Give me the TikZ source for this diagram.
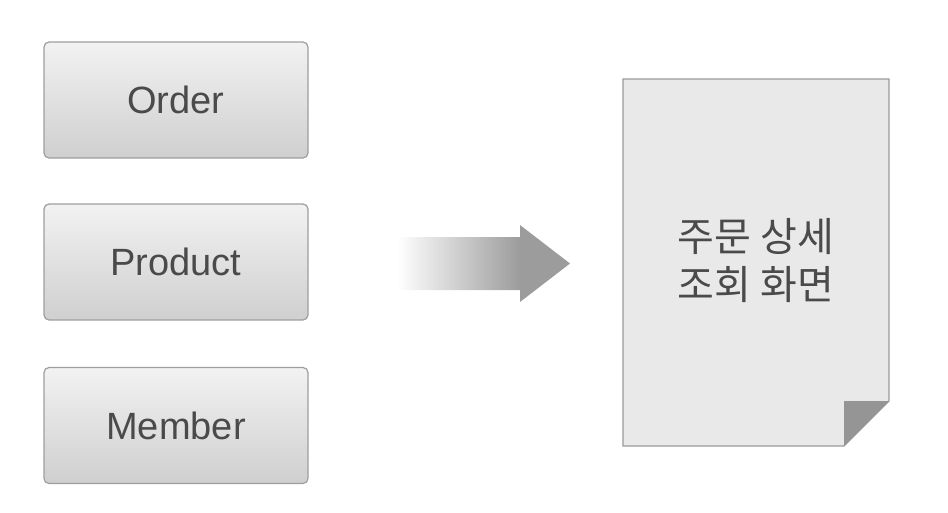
\documentclass[tikz,border=0pt]{standalone}
\usepackage{fontspec}
\setmainfont{Liberation Sans}
\newfontfamily\krfont{Noto Sans CJK KR}
\definecolor{arrowgray}{HTML}{9C9C9C}
\definecolor{boxtop}{HTML}{F2F2F2}
\definecolor{boxbottom}{HTML}{CFCFCF}
\definecolor{boxborder}{HTML}{9E9E9E}
\definecolor{textgray}{HTML}{4A4A4A}
\definecolor{docfill}{HTML}{E9E9E9}
\definecolor{docborder}{HTML}{9A9A9A}
\definecolor{foldgray}{HTML}{959595}
\pgfdeclarehorizontalshading{arrowshade}{100bp}{color(0bp)=(white); color(25bp)=(white); color(60.5bp)=(arrowgray); color(100bp)=(arrowgray)}
\begin{document}
\begin{tikzpicture}[x=1pt,y=-1pt,
  entity/.style={draw=boxborder, line width=1.2pt, rounded corners=5pt,
    top color=boxtop, bottom color=boxbottom,
    minimum width=264pt, minimum height=116pt, inner sep=0pt,
    font=\fontsize{38}{44}\selectfont, text=textgray},
  doctext/.style={align=center, inner sep=0pt, text=textgray,
    font=\krfont\fontsize{40}{48}\selectfont}]
\useasboundingbox (0,0) rectangle (948,512);
\node[entity] (order) at (176,100) {Order};
\node[entity] (product) at (176,262) {Product};
\node[entity] (member) at (176,425.5) {Member};
% block arrow
\shade[shading=arrowshade] (397,237) -- (520,237) -- (520,225) -- (570,263.5)
  -- (520,302) -- (520,290) -- (397,290) -- cycle;
% document page
\filldraw[fill=docfill, draw=docborder, line width=1.2pt]
  (623,79) -- (889,79) -- (889,401) -- (844,446) -- (623,446) -- cycle;
\fill[foldgray] (844,401) -- (889,401) -- (844,446) -- cycle;
\node[doctext] (screen) at (756,261) {주문 상세\\조회 화면};
\end{tikzpicture}
\end{document}
